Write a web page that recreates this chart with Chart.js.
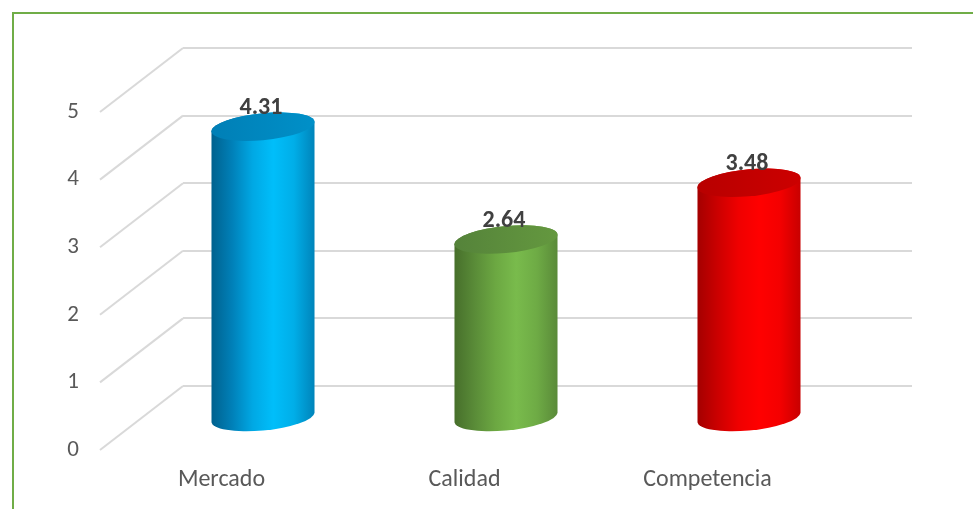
<!DOCTYPE html>
<html>
<head>
<meta charset="utf-8">
<script src="https://cdn.jsdelivr.net/npm/chart.js@4.4.1/dist/chart.umd.min.js"></script>
<style>
  html, body { margin: 0; padding: 0; background: #fff; }
  #wrap { width: 973px; height: 509px; position: relative; }
</style>
</head>
<body>
<div id="wrap"><canvas id="grafico"></canvas></div>
<script>
const categorias = ['Mercado', 'Calidad', 'Competencia'];
const valores = [4.31, 2.64, 3.48];
const marcasEje = [0, 1, 2, 3, 4, 5];

// sombreado de cada cilindro (de izquierda a derecha) y color de la tapa
const coloresCilindro = [
  { cuerpo: ['#00618e', '#0080b8', '#00a8e4', '#00befa', '#00aee8', '#0084ba'], tapa: ['#007fb6', '#0090c8'] },
  { cuerpo: ['#476f2b', '#5a8c38', '#6ca842', '#79bb4c', '#6eab45', '#5a8a39'], tapa: ['#55833a', '#64983f'] },
  { cuerpo: ['#a40000', '#cc0000', '#f00000', '#ff0000', '#f40000', '#c80000'], tapa: ['#b80000', '#cc0000'] }
];

const fuente = 'Carlito, Calibri, Lato, "Liberation Sans", sans-serif';
const PROF_X = 83, PROF_Y = 64;   // desplazamiento pared trasera -> frente

function cilindro(ctx, cx, yTop, yBase, rx, ry, col) {
  const k = -0.09;
  ctx.save();
  ctx.translate(cx, 0);
  ctx.transform(1, k, 0, 1, 0, 0);

  const g = ctx.createLinearGradient(-rx, 0, rx, 0);
  col.cuerpo.forEach((c, i) => g.addColorStop(i / (col.cuerpo.length - 1), c));
  ctx.beginPath();
  ctx.moveTo(-rx, yTop);
  ctx.lineTo(-rx, yBase);
  ctx.ellipse(0, yBase, rx, ry, 0, Math.PI, 0, true);
  ctx.lineTo(rx, yTop);
  ctx.ellipse(0, yTop, rx, ry, 0, 0, Math.PI, true);
  ctx.closePath();
  ctx.fillStyle = g;
  ctx.fill();

  const t = ctx.createLinearGradient(-rx, 0, rx, 0);
  t.addColorStop(0, col.tapa[0]);
  t.addColorStop(1, col.tapa[1]);
  ctx.beginPath();
  ctx.ellipse(0, yTop, rx, ry, 0, 0, Math.PI * 2);
  ctx.fillStyle = t;
  ctx.fill();
  ctx.restore();
}

const marco3D = {
  id: 'marco3D',
  beforeDraw(chart) {
    const ctx = chart.ctx;
    ctx.save();
    ctx.fillStyle = '#fff';
    ctx.fillRect(0, 0, chart.width, chart.height);
    ctx.strokeStyle = '#70ad47';
    ctx.lineWidth = 2;
    ctx.strokeRect(13, 13, chart.width + 20, chart.height + 20);
    ctx.restore();
  },
  beforeDatasetsDraw(chart) {
    const ctx = chart.ctx, y = chart.scales.y, left = chart.chartArea.left;
    ctx.save();
    ctx.strokeStyle = '#d9d9d9';
    ctx.lineWidth = 2;
    y.ticks.forEach(tk => {
      const py = y.getPixelForValue(tk.value);
      ctx.beginPath();
      ctx.moveTo(left, py);
      ctx.lineTo(left - PROF_X, py + PROF_Y);
      ctx.stroke();
    });
    ctx.restore();
  },
  afterDatasetsDraw(chart) {
    const ctx = chart.ctx;
    const meta = chart.getDatasetMeta(0);
    meta.data.forEach((bar, i) => {
      const cx = bar.x - PROF_X / 2;
      const yTop = bar.y + PROF_Y / 2;
      const yBase = bar.base + PROF_Y / 2;
      cilindro(ctx, cx, yTop, yBase, bar.width / 2, 13.5, coloresCilindro[i]);
      ctx.save();
      ctx.font = 'bold 24px ' + fuente;
      ctx.fillStyle = '#404040';
      ctx.textAlign = 'center';
      ctx.textBaseline = 'middle';
      ctx.fillText(valores[i].toFixed(2), cx - 2, yTop - 19);
      ctx.restore();
    });
  }
};

new Chart(document.getElementById('grafico'), {
  type: 'bar',
  data: {
    labels: categorias,
    datasets: [{
      data: valores,
      backgroundColor: 'rgba(0,0,0,0)',
      borderWidth: 0,
      categoryPercentage: 1,
      barPercentage: 0.424
    }]
  },
  options: {
    responsive: true,
    maintainAspectRatio: false,
    animation: false,
    layout: { padding: { top: 48, right: 61, left: 0, bottom: 0 } },
    plugins: { legend: { display: false }, tooltip: { enabled: false } },
    scales: {
      x: {
        grid: { display: false, drawTicks: false },
        border: { display: false },
        ticks: { color: '#595959', font: { family: fuente, size: 24 }, padding: 80, labelOffset: -PROF_X, maxRotation: 0 },
        afterFit(s) { s.height = 123; s.paddingLeft = 0; s.paddingRight = 0; }
      },
      y: {
        min: 0,
        max: 5,
        afterBuildTicks(s) { s.ticks = marcasEje.map(v => ({ value: v })); },
        grid: { color: '#d9d9d9', lineWidth: 2, drawTicks: false },
        border: { display: false },
        ticks: { color: '#595959', font: { family: fuente, size: 23 }, padding: 104, labelOffset: PROF_Y },
        afterFit(s) { s.width = 183; s.paddingTop = 0; s.paddingBottom = 0; }
      }
    }
  },
  plugins: [marco3D]
});
</script>
</body>
</html>
